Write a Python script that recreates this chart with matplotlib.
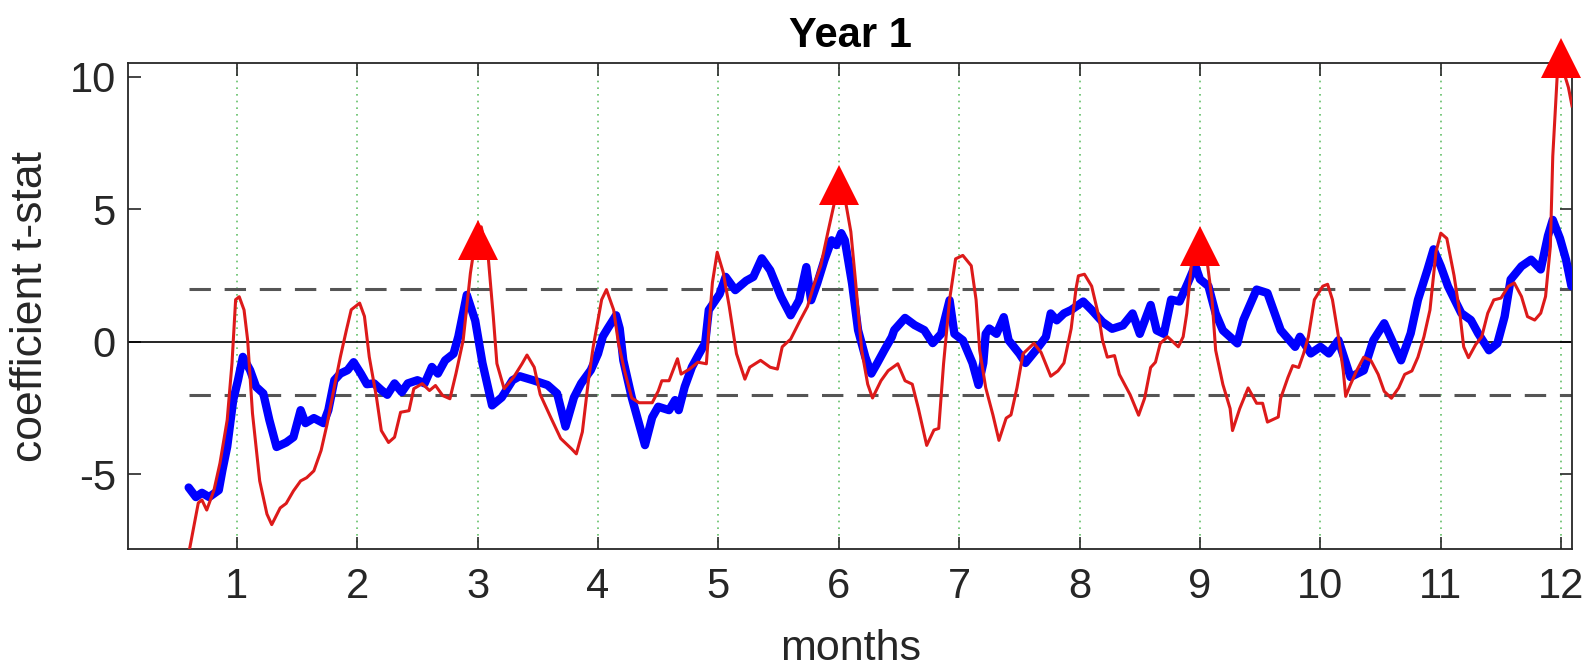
import numpy as np
import matplotlib
matplotlib.use("Agg")
import matplotlib.pyplot as plt

plt.rcParams['font.family'] = ['Liberation Sans', 'DejaVu Sans']
plt.rcParams['axes.unicode_minus'] = False

# blue series (thick line)
blue_x = [0.60, 0.66, 0.71, 0.77, 0.82, 0.85, 0.88, 0.92, 0.97, 1.01, 1.05, 1.11, 1.16, 1.22, 1.27,
          1.33, 1.41, 1.47, 1.53, 1.57, 1.64, 1.72, 1.76, 1.81, 1.86, 1.92, 1.97, 2.03, 2.08, 2.14,
          2.20, 2.25, 2.31, 2.37, 2.42, 2.50, 2.56, 2.62, 2.67, 2.73, 2.80, 2.84, 2.91, 2.98, 3.04,
          3.12, 3.20, 3.29, 3.35, 3.46, 3.58, 3.66, 3.73, 3.80, 3.86, 3.94, 4.00, 4.04, 4.08, 4.15,
          4.18, 4.21, 4.28, 4.39, 4.45, 4.50, 4.59, 4.64, 4.67, 4.72, 4.78, 4.84, 4.89, 4.92, 5.01,
          5.06, 5.14, 5.23, 5.29, 5.36, 5.43, 5.52, 5.60, 5.67, 5.73, 5.77, 5.82, 5.88, 5.94, 5.98,
          6.02, 6.05, 6.11, 6.16, 6.22, 6.27, 6.32, 6.38, 6.44, 6.46, 6.55, 6.63, 6.71, 6.78, 6.85,
          6.92, 6.96, 7.03, 7.11, 7.16, 7.20, 7.22, 7.25, 7.31, 7.37, 7.41, 7.50, 7.55, 7.64, 7.72,
          7.76, 7.81, 7.87, 7.93, 8.03, 8.10, 8.19, 8.27, 8.36, 8.44, 8.50, 8.59, 8.64, 8.70, 8.76,
          8.83, 8.90, 8.96, 9.00, 9.07, 9.13, 9.19, 9.31, 9.36, 9.47, 9.56, 9.67, 9.79, 9.83, 9.92,
          10.00, 10.07, 10.15, 10.25, 10.36, 10.44, 10.53, 10.67, 10.75, 10.81, 10.89, 10.94, 11.00,
          11.06, 11.17, 11.25, 11.31, 11.40, 11.47, 11.53, 11.58, 11.67, 11.75, 11.83, 11.89, 11.93,
          11.99, 12.04, 12.085]
blue_y = [-5.5, -5.86, -5.7, -5.86, -5.7, -5.6, -4.85, -3.96, -2.2, -1.44, -0.57, -1.07, -1.7, -1.95, -2.95,
          -3.97, -3.8, -3.6, -2.58, -3.07, -2.88, -3.07, -2.58, -1.45, -1.2, -1.07, -0.77, -1.2, -1.6, -1.57,
          -1.82, -2.0, -1.57, -1.9, -1.57, -1.45, -1.57, -0.95, -1.2, -0.7, -0.45, 0.2, 1.77, 0.8, -0.8,
          -2.4, -2.1, -1.45, -1.3, -1.45, -1.63, -1.95, -3.2, -2.1, -1.57, -1.07, -0.45, 0.2, 0.5, 1.0,
          0.5, -0.7, -2.1, -3.9, -2.85, -2.45, -2.58, -2.2, -2.58, -1.7, -0.95, -0.45, -0.05, 1.2, 1.8,
          2.45, 1.95, 2.3, 2.45, 3.15, 2.7, 1.7, 1.0, 1.57, 2.82, 1.57, 2.2, 3.08, 3.83, 3.65,
          4.1, 3.83, 2.2, 0.44, -0.57, -1.2, -0.8, -0.3, 0.18, 0.44, 0.9, 0.63, 0.44, -0.05, 0.3,
          1.57, 0.3, 0.06, -0.8, -1.63, -0.8, 0.3, 0.5, 0.3, 0.93, 0.06, -0.45, -0.8, -0.3, 0.18,
          1.07, 0.81, 1.07, 1.2, 1.52, 1.2, 0.75, 0.49, 0.62, 1.07, 0.3, 1.39, 0.43, 0.3, 1.59,
          1.52, 2.23, 2.88, 2.36, 2.1, 1.07, 0.43, -0.06, 0.82, 1.97, 1.84, 0.44, -0.19, 0.19, -0.44,
          -0.19, -0.44, 0.06, -1.33, -1.08, 0.06, 0.7, -0.7, 0.32, 1.58, 2.73, 3.49, 2.85,
          2.09, 1.08, 0.82, 0.32, -0.32, -0.06, 0.95, 2.35, 2.85, 3.1, 2.73, 4.0, 4.6,
          3.9, 3.1, 2.1]

# red series (thin line)
red_x = [0.60, 0.68, 0.71, 0.75, 0.81, 0.86, 0.92, 0.96, 0.99, 1.02, 1.06, 1.09, 1.13, 1.19, 1.25,
         1.29, 1.36, 1.41, 1.47, 1.53, 1.58, 1.64, 1.70, 1.75, 1.81, 1.86, 1.91, 1.95, 2.02, 2.06,
         2.10, 2.16, 2.20, 2.26, 2.31, 2.36, 2.43, 2.47, 2.54, 2.60, 2.65, 2.71, 2.77, 2.82, 2.88,
         2.94, 2.99, 3.03, 3.09, 3.13, 3.16, 3.22, 3.30, 3.37, 3.41, 3.47, 3.52, 3.61, 3.69, 3.78,
         3.82, 3.87, 3.92, 3.96, 4.03, 4.07, 4.13, 4.17, 4.22, 4.28, 4.34, 4.45, 4.50, 4.53, 4.59,
         4.66, 4.69, 4.76, 4.83, 4.90, 4.92, 4.95, 4.99, 5.04, 5.09, 5.15, 5.22, 5.26, 5.35, 5.43,
         5.49, 5.53, 5.60, 5.68, 5.74, 5.79, 5.85, 5.91, 5.96, 6.01, 6.05, 6.10, 6.14, 6.19, 6.24,
         6.28, 6.35, 6.41, 6.49, 6.55, 6.61, 6.66, 6.73, 6.79, 6.83, 6.87, 6.92, 6.97, 7.03, 7.10,
         7.14, 7.17, 7.22, 7.28, 7.33, 7.39, 7.43, 7.48, 7.53, 7.62, 7.68, 7.76, 7.82, 7.87, 7.93,
         7.97, 7.99, 8.04, 8.10, 8.16, 8.19, 8.23, 8.29, 8.33, 8.42, 8.49, 8.54, 8.59, 8.63, 8.67,
         8.73, 8.82, 8.86, 8.89, 8.93, 8.99, 9.06, 9.10, 9.13, 9.19, 9.25, 9.27, 9.33, 9.40, 9.47,
         9.52, 9.56, 9.65, 9.67, 9.73, 9.77, 9.82, 9.86, 9.90, 9.95, 10.02, 10.06, 10.10, 10.15, 10.19,
         10.21, 10.25, 10.30, 10.36, 10.42, 10.48, 10.53, 10.59, 10.65, 10.70, 10.76, 10.81, 10.86, 10.91, 10.96,
         11.00, 11.05, 11.11, 11.16, 11.19, 11.23, 11.29, 11.34, 11.39, 11.44, 11.50, 11.56, 11.61, 11.67, 11.72,
         11.78, 11.83, 11.87, 11.91, 11.93, 11.97, 12.02, 12.06, 12.09]
red_y = [-8.0, -6.08, -5.97, -6.35, -5.6, -4.58, -2.95, -0.8, 1.59, 1.7, 1.2, 0.06, -2.7, -5.25, -6.5,
         -6.9, -6.27, -6.1, -5.63, -5.25, -5.13, -4.87, -4.1, -3.1, -1.7, -0.57, 0.44, 1.21, 1.46, 0.96,
         -0.57, -2.1, -3.35, -3.8, -3.6, -2.66, -2.6, -1.77, -1.58, -1.84, -1.65, -2.03, -2.15, -1.2, 0.06,
         2.59, 4.09, 4.34, 3.09, 0.96, -0.82, -1.77, -1.33, -0.82, -0.5, -0.96, -1.99, -2.88, -3.65, -4.04,
         -4.23, -3.4, -1.47, -0.19, 1.59, 1.97, 1.2, -0.06, -1.09, -2.12, -2.3, -2.3, -1.86, -1.47, -1.47,
         -0.64, -1.22, -1.03, -0.77, -0.83, 0.45, 2.23, 3.38, 2.62, 1.33, -0.45, -1.41, -0.96, -0.7, -0.96,
         -1.03, -0.19, 0.1, 0.82, 1.33, 2.1, 2.87, 4.15, 5.18, 5.56, 5.44, 4.15, 2.23, -0.32, -1.6,
         -2.12, -1.47, -1.09, -0.83, -1.47, -1.6, -2.5, -3.91, -3.33, -3.27, -0.83, 1.59, 3.13, 3.26, 2.87,
         1.59, -0.32, -1.73, -2.76, -3.72, -2.88, -2.76, -1.73, -0.45, -0.06, -0.4, -1.3, -1.1, -0.8, 0.5,
         2.0, 2.49, 2.55, 2.1, 0.94, 0.06, -0.58, -0.52, -1.23, -2.0, -2.77, -2.13, -0.97, -0.77, -0.06,
         0.19, -0.19, 0.19, 1.07, 3.0, 3.4, 3.0, 1.59, -0.32, -1.61, -2.52, -3.35, -2.52, -1.74, -2.32,
         -2.32, -3.03, -2.84, -2.13, -1.35, -0.9, -0.97, -0.45, 0.19, 1.59, 2.1, 2.17, 1.59, 0.19, -1.1,
         -2.06, -1.61, -1.1, -0.58, -0.71, -1.23, -1.87, -2.13, -1.74, -1.23, -1.1, -0.58, 0.19, 1.2, 3.39,
         4.1, 3.9, 2.5, 1.0, -0.19, -0.6, -0.1, 0.19, 1.08, 1.58, 1.65, 2.09, 2.22, 1.71, 0.95,
         0.82, 1.08, 1.71, 3.6, 7.0, 10.3, 10.2, 9.6, 8.9]

# markers at quarter ends
peak_x = [3, 6, 9, 12]
peak_y = [3.85, 5.9, 3.6, 10.7]

month_ticks = list(range(1, 13))
y_ticks = [-5, 0, 5, 10]
sig_level = 2

fig = plt.figure(figsize=(15.9, 6.67), dpi=100)
ax = fig.add_axes([0.0808, 0.1769, 0.9079, 0.7286])

for m in month_ticks:
    ax.axvline(m, color='#3cb043', linestyle=(0, (1, 3)), linewidth=1.2, alpha=0.8, zorder=1)

ax.axhline(0, color='black', linewidth=1.2, zorder=2)
for lvl in (sig_level, -sig_level):
    ax.plot([blue_x[0], 12.09], [lvl, lvl], color='#555555', linewidth=2.2,
            dashes=(7, 4.5), zorder=2)

ax.plot(blue_x, blue_y, color='#0000ff', linewidth=6, solid_joinstyle='round',
        solid_capstyle='round', zorder=3)
ax.plot(red_x, red_y, color='#dd1a1a', linewidth=2.2, zorder=4)
ax.plot(peak_x, peak_y, linestyle='none', marker='^', markersize=29,
        color='#ff0000', markeredgewidth=0, zorder=5, clip_on=False)

ax.set_xlim(0.1, 12.09)
ax.set_ylim(-7.82, 10.52)
ax.set_xticks(month_ticks)
ax.set_yticks(y_ticks)
ax.tick_params(direction='in', length=9, width=1.2, top=True, right=True,
               labelsize=30, colors='#262626', pad=13)
ax.tick_params(axis='y', pad=9)
for s in ax.spines.values():
    s.set_color('#262626')
    s.set_linewidth(1.3)

ax.set_title('Year 1', fontsize=30, fontweight='bold', pad=11.5)
ax.set_xlabel('months', fontsize=31, color='#262626')
ax.set_ylabel('coefficient t-stat', fontsize=32, color='#262626')
ax.xaxis.set_label_coords(0.5, -0.165)
ax.yaxis.set_label_coords(-0.0537, 0.5)

fig.savefig('out.png', dpi=100)
